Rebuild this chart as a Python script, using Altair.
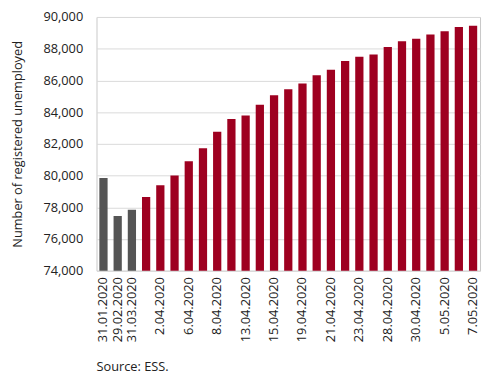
import altair as alt
import pandas as pd

dates = ["31.01.2020", "29.02.2020", "31.03.2020",
         "1.04.2020", "2.04.2020", "3.04.2020", "6.04.2020", "7.04.2020", "8.04.2020",
         "10.04.2020", "13.04.2020", "14.04.2020", "15.04.2020", "17.04.2020", "19.04.2020",
         "20.04.2020", "21.04.2020", "22.04.2020", "23.04.2020", "24.04.2020", "28.04.2020",
         "29.04.2020", "30.04.2020", "4.05.2020", "5.05.2020", "6.05.2020", "7.05.2020"]
values = [79850, 77450, 77850,
          78650, 79390, 80000, 80900, 81730, 82770,
          83570, 83780, 84470, 85070, 85450, 85800,
          86320, 86680, 87230, 87490, 87630, 88100,
          88470, 88630, 88900, 89100, 89370, 89450]
groups = ["month"] * 3 + ["day"] * 24
shown_labels = ["31.01.2020", "29.02.2020", "31.03.2020", "2.04.2020", "6.04.2020", "8.04.2020",
                "13.04.2020", "15.04.2020", "19.04.2020", "21.04.2020", "23.04.2020",
                "28.04.2020", "30.04.2020", "5.05.2020", "7.05.2020"]
y_ticks = list(range(74000, 90001, 2000))

df = pd.DataFrame({"date": dates, "value": values, "group": groups})

FONT = "Open Sans"

chart = alt.Chart(df).mark_bar(clip=True).encode(
    x=alt.X("date:N", sort=dates,
            scale=alt.Scale(paddingInner=0.42, paddingOuter=0.2),
            axis=alt.Axis(title=None, values=shown_labels, labelAngle=-90,
                          labelFont=FONT, labelFontSize=13, labelColor="#222222",
                          ticks=False, domain=False, labelPadding=6, labelOverlap=False)),
    y=alt.Y("value:Q",
            scale=alt.Scale(domain=[74000, 90000], zero=False, nice=False),
            axis=alt.Axis(title="Number of registered unemployed", values=y_ticks, format=",.0f",
                          labelFont=FONT, labelFontSize=13, labelColor="#222222",
                          titleFont=FONT, titleFontSize=13, titleFontWeight="normal",
                          titleColor="#222222", titlePadding=19,
                          ticks=False, domain=False, labelPadding=14,
                          gridColor="#d9d9d9", gridWidth=1)),
    color=alt.Color("group:N", scale=alt.Scale(domain=["month", "day"], range=["#555555", "#9e0020"]),
                    legend=None),
).properties(
    width=390, height=258,
    title=alt.TitleParams("Source: ESS.", orient="bottom", anchor="start", frame="group",
                          font=FONT, fontSize=13, fontWeight="normal", color="#222222",
                          offset=20),
    padding={"left": 90, "top": 6, "right": 2, "bottom": 108},
    autosize="none",
).configure_view(stroke="#c8c8c8", strokeWidth=1)

chart.save("out.html", embed_options={"renderer": "svg", "actions": False})
